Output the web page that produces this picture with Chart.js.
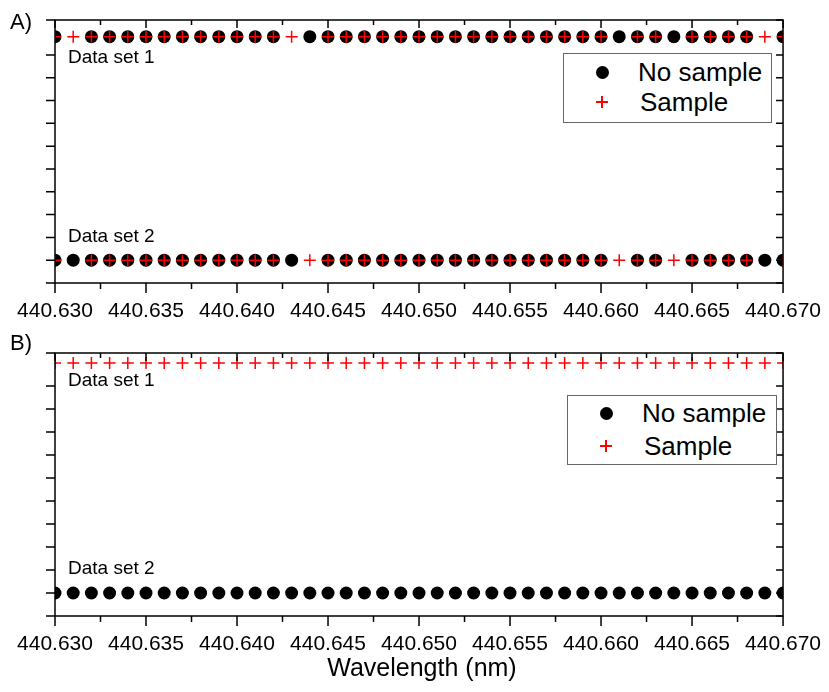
<!DOCTYPE html>
<html>
<head>
<meta charset="utf-8">
<script src="https://cdn.jsdelivr.net/npm/chart.js@4.4.0/dist/chart.umd.min.js"></script>
<style>
  body { margin: 0; background: #fff; font-family: "Liberation Sans", Arial, sans-serif; }
  #page { position: relative; width: 829px; height: 692px; overflow: hidden; }
  .panel { position: absolute; left: 0; width: 829px; }
  #panelA { top: 0; height: 330px; }
  #panelB { top: 330px; height: 362px; }
  .txt { position: absolute; color: #000; white-space: nowrap; line-height: 1; }
  .legend { position: absolute; border: 1px solid #666; background: #fff; }
  .dot { position: absolute; width: 13px; height: 13px; border-radius: 50%; background: #000; }
  .cross { position: absolute; width: 12px; height: 12px; }
  .cross:before, .cross:after { content: ""; position: absolute; background: #f00; }
  .cross:before { left: 0; top: 5px; width: 12px; height: 1.5px; }
  .cross:after { left: 5px; top: 0; width: 1.5px; height: 12px; }
</style>
</head>
<body>
<div id="page">
  <div class="panel" id="panelA"><canvas id="chartA"></canvas></div>
  <div class="panel" id="panelB"><canvas id="chartB"></canvas></div>

  <div class="txt" style="left:10px; top:11px; font-size:22px;">A)</div>
  <div class="txt" style="left:10px; top:332px; font-size:22px;">B)</div>

  <div class="txt" style="left:68px; top:47px; font-size:19px;">Data set 1</div>
  <div class="txt" style="left:68px; top:226px; font-size:19px;">Data set 2</div>
  <div class="txt" style="left:68px; top:370px; font-size:19px;">Data set 1</div>
  <div class="txt" style="left:68px; top:558px; font-size:19px;">Data set 2</div>

  <div class="legend" style="left:563px; top:53px; width:207px; height:68px;"></div>
  <div class="dot" style="left:596px; top:66px;"></div>
  <div class="txt" style="left:638px; top:59px; font-size:26px;">No sample</div>
  <div class="cross" style="left:596px; top:96px;"></div>
  <div class="txt" style="left:640px; top:89px; font-size:26px;">Sample</div>

  <div class="legend" style="left:567px; top:395px; width:208px; height:68px;"></div>
  <div class="dot" style="left:600px; top:407px;"></div>
  <div class="txt" style="left:642px; top:400px; font-size:26px;">No sample</div>
  <div class="cross" style="left:600px; top:440px;"></div>
  <div class="txt" style="left:644px; top:433px; font-size:26px;">Sample</div>

  <div class="txt" style="left:0; width:844px; text-align:center; top:655px; font-size:25px;">Wavelength (nm)</div>
</div>

<script>
const wavelengths = [
  440.630, 440.631, 440.632, 440.633, 440.634, 440.635, 440.636, 440.637, 440.638, 440.639,
  440.640, 440.641, 440.642, 440.643, 440.644, 440.645, 440.646, 440.647, 440.648, 440.649,
  440.650, 440.651, 440.652, 440.653, 440.654, 440.655, 440.656, 440.657, 440.658, 440.659,
  440.660, 440.661, 440.662, 440.663, 440.664, 440.665, 440.666, 440.667, 440.668, 440.669,
  440.670
];

// panel A, level of each point (null = no point)
const aNoSampleSet1 = [
  9.8, null, 9.8, 9.8, 9.8, 9.8, 9.8, 9.8, 9.8, 9.8,
  9.8, 9.8, 9.8, null, 9.8, 9.8, 9.8, 9.8, 9.8, 9.8,
  9.8, 9.8, 9.8, 9.8, 9.8, 9.8, 9.8, 9.8, 9.8, 9.8,
  9.8, 9.8, 9.8, 9.8, 9.8, 9.8, 9.8, 9.8, 9.8, null,
  9.8
];
const aSampleSet1 = [
  9.8, 9.8, 9.8, 9.8, 9.8, 9.8, 9.8, 9.8, 9.8, 9.8,
  9.8, 9.8, 9.8, 9.8, null, 9.8, 9.8, 9.8, 9.8, 9.8,
  9.8, 9.8, 9.8, 9.8, 9.8, 9.8, 9.8, 9.8, 9.8, 9.8,
  9.8, null, 9.8, 9.8, null, 9.8, 9.8, 9.8, 9.8, 9.8,
  9.8
];
const aNoSampleSet2 = [
  0, 0, 0, 0, 0, 0, 0, 0, 0, 0,
  0, 0, 0, 0, null, 0, 0, 0, 0, 0,
  0, 0, 0, 0, 0, 0, 0, 0, 0, 0,
  0, null, 0, 0, null, 0, 0, 0, 0, 0,
  0
];
const aSampleSet2 = [
  0, null, 0, 0, 0, 0, 0, 0, 0, 0,
  0, 0, 0, null, 0, 0, 0, 0, 0, 0,
  0, 0, 0, 0, 0, 0, 0, 0, 0, 0,
  0, 0, 0, 0, 0, 0, 0, 0, 0, null,
  0
];

// panel B
const bSampleSet1 = [
  10, 10, 10, 10, 10, 10, 10, 10, 10, 10,
  10, 10, 10, 10, 10, 10, 10, 10, 10, 10,
  10, 10, 10, 10, 10, 10, 10, 10, 10, 10,
  10, 10, 10, 10, 10, 10, 10, 10, 10, 10,
  10
];
const bNoSampleSet2 = [
  0, 0, 0, 0, 0, 0, 0, 0, 0, 0,
  0, 0, 0, 0, 0, 0, 0, 0, 0, 0,
  0, 0, 0, 0, 0, 0, 0, 0, 0, 0,
  0, 0, 0, 0, 0, 0, 0, 0, 0, 0,
  0
];

const xMin = 440.630;
const xMax = 440.670;

function toPoints(levels) {
  return wavelengths.map((w, i) => ({ x: w, y: levels[i] }));
}

function noSample(levels) {
  return {
    label: 'No sample',
    data: toPoints(levels),
    pointStyle: 'circle',
    pointRadius: 6.5,
    pointBackgroundColor: '#000',
    pointBorderWidth: 0,
    clip: 0,
    order: 1
  };
}

function sample(levels) {
  return {
    label: 'Sample',
    data: toPoints(levels),
    pointStyle: 'cross',
    pointRadius: 6,
    pointBorderColor: '#ff0000',
    pointBorderWidth: 1.5,
    clip: 0,
    order: 0
  };
}

// frame and Origin-like ticks (inward on top/right)
const framePlugin = {
  id: 'frame',
  afterDatasetsDraw(chart) {
    const { ctx, chartArea: a, scales: { x, y } } = chart;
    ctx.save();
    ctx.strokeStyle = '#000';
    ctx.lineWidth = 1.5;
    ctx.strokeRect(a.left, a.top, a.right - a.left, a.bottom - a.top);
    ctx.beginPath();
    const xt = x.ticks.map(t => t.value);
    xt.forEach((v, i) => {
      const px = x.getPixelForValue(v);
      ctx.moveTo(px, a.bottom); ctx.lineTo(px, a.bottom + 10);
      ctx.moveTo(px, a.top); ctx.lineTo(px, a.top + 8);
      if (i < xt.length - 1) {
        const mx = x.getPixelForValue((v + xt[i + 1]) / 2);
        ctx.moveTo(mx, a.bottom); ctx.lineTo(mx, a.bottom + 6);
        ctx.moveTo(mx, a.top); ctx.lineTo(mx, a.top + 5);
      }
    });
    y.ticks.forEach(t => {
      const py = y.getPixelForValue(t.value);
      ctx.moveTo(a.left, py); ctx.lineTo(a.left - 9, py);
      ctx.moveTo(a.right, py); ctx.lineTo(a.right - 7, py);
    });
    ctx.stroke();
    ctx.restore();
  }
};

function makeChart(id, datasets, yMax, padTop, xHeight) {
  new Chart(document.getElementById(id), {
    type: 'scatter',
    data: { datasets: datasets },
    options: {
      responsive: true,
      maintainAspectRatio: false,
      animation: false,
      layout: { padding: { top: padTop, right: 40, left: 0, bottom: 0 } },
      plugins: { legend: { display: false }, tooltip: { enabled: false } },
      scales: {
        x: {
          type: 'linear',
          min: xMin,
          max: xMax,
          grid: { display: false },
          border: { display: false },
          afterFit: s => { s.height = xHeight; },
          ticks: {
            stepSize: 0.005,
            autoSkip: false,
            maxRotation: 0,
            padding: 8,
            color: '#000',
            font: { family: '"Liberation Sans", Arial, sans-serif', size: 21 },
            callback: v => Number(v).toFixed(3)
          }
        },
        y: {
          type: 'linear',
          min: -1,
          max: yMax,
          grid: { display: false },
          border: { display: false },
          afterFit: s => { s.width = 55; },
          ticks: { stepSize: 1, display: false }
        }
      }
    },
    plugins: [framePlugin]
  });
}

makeChart('chartA', [
  noSample(aNoSampleSet1), sample(aSampleSet1),
  noSample(aNoSampleSet2), sample(aSampleSet2)
], 10.53, 20, 47);

makeChart('chartB', [
  sample(bSampleSet1), noSample(bNoSampleSet2)
], 10.43, 23, 76);
</script>
</body>
</html>
